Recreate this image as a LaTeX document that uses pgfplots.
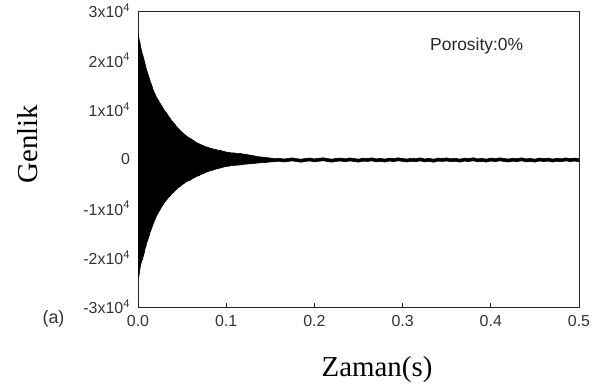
\documentclass[border=0pt]{standalone}
\usepackage{fontspec}
\setmainfont{Liberation Sans}
\newfontfamily\labelserif{Liberation Serif}
\usepackage{pgfplots}
\pgfplotsset{compat=1.18}
\usepgfplotslibrary{fillbetween}
\usepackage{pgfplotstable}

% Envelope of the recorded signal: time (s), upper and lower amplitude
\pgfplotstableread{
t      up     lo
0.0000 25600 -23800
0.0006 25100 -24100
0.0012 24300 -23600
0.0023 23500 -22100
0.0032 22600 -21400
0.0040 22000 -20700
0.0050 21300 -20400
0.0060 20700 -19700
0.0070 20000 -19100
0.0080 19300 -18200
0.0090 18600 -17700
0.0098 18000 -17000
0.0108 17500 -16600
0.0118 16900 -16000
0.0128 16400 -15500
0.0136 15900 -14900
0.0148 15300 -14400
0.0160 14700 -13800
0.0172 14000 -13200
0.0185 13500 -12600
0.0198 13000 -12100
0.0210 12500 -11500
0.0230 11900 -10900
0.0250 11300 -10300
0.0268 10800 -9700
0.0287 10200 -9200
0.0305 9700 -8700
0.0325 9300 -8300
0.0345 8700 -7800
0.0363 8300 -7500
0.0380 7800 -7100
0.0400 7400 -6800
0.0420 7000 -6400
0.0440 6500 -6100
0.0458 6200 -5800
0.0476 5800 -5600
0.0500 5400 -5200
0.0520 5100 -5000
0.0540 4800 -4700
0.0560 4500 -4500
0.0590 4200 -4300
0.0615 3900 -4000
0.0640 3600 -3800
0.0665 3300 -3500
0.0690 3100 -3400
0.0715 2900 -3100
0.0740 2700 -3000
0.0765 2500 -2700
0.0790 2400 -2600
0.0815 2200 -2400
0.0840 2100 -2300
0.0865 1950 -2150
0.0890 1900 -2000
0.0910 1750 -1900
0.0930 1800 -1850
0.0955 1600 -1700
0.0980 1500 -1600
0.1005 1400 -1500
0.1030 1350 -1450
0.1055 1250 -1350
0.1080 1250 -1300
0.1120 1150 -1250
0.1160 1150 -1200
0.1190 1000 -1100
0.1220 950 -1050
0.1250 850 -1000
0.1280 750 -950
0.1310 650 -900
0.1340 550 -850
0.1370 450 -800
0.1400 400 -750
0.1450 300 -700
0.1500 200 -600
0.155 50 -550
0.160 150 -450
0.165 0 -600
0.170 100 -500
0.175 220 -380
0.180 70 -530
0.185 -50 -650
0.190 120 -480
0.195 200 -400
0.200 20 -580
0.205 140 -460
0.210 250 -350
0.215 80 -520
0.220 -30 -630
0.225 130 -470
0.230 180 -420
0.235 40 -560
0.240 210 -390
0.245 90 -510
0.250 -40 -640
0.255 160 -440
0.260 100 -500
0.265 230 -370
0.270 30 -570
0.275 120 -480
0.280 -20 -620
0.285 190 -410
0.290 70 -530
0.295 240 -360
0.300 110 -490
0.305 -10 -610
0.310 150 -450
0.315 60 -540
0.320 220 -380
0.325 10 -590
0.330 130 -470
0.335 -50 -650
0.340 170 -430
0.345 100 -500
0.350 210 -390
0.355 40 -560
0.360 140 -460
0.365 -30 -630
0.370 180 -420
0.375 80 -520
0.380 250 -350
0.385 30 -570
0.390 110 -490
0.395 -20 -620
0.400 190 -410
0.405 60 -540
0.410 230 -370
0.415 100 -500
0.420 0 -600
0.425 160 -440
0.430 70 -530
0.435 240 -360
0.440 20 -580
0.445 120 -480
0.450 -40 -640
0.455 200 -400
0.460 90 -510
0.465 170 -430
0.470 -10 -610
0.475 140 -460
0.480 40 -560
0.485 220 -380
0.490 80 -520
0.495 180 -420
0.500 50 -550
}\signal

\begin{document}
\begin{tikzpicture}
\begin{axis}[
  at={(0,0)}, anchor=south west,
  scale only axis,
  width=441bp, height=296bp,
  xmin=0, xmax=0.5, ymin=-30000, ymax=30000,
  axis line style={black!85, line width=0.9bp},
  xtick={0,0.1,0.2,0.3,0.4,0.5},
  xticklabels={0.0,0.1,0.2,0.3,0.4,0.5},
  ytick={-30000,-20000,-10000,0,10000,20000,30000},
  yticklabels={-3x10\textsuperscript{4},-2x10\textsuperscript{4},-1x10\textsuperscript{4},0,1x10\textsuperscript{4},2x10\textsuperscript{4},3x10\textsuperscript{4}},
  xtick pos=bottom, ytick pos=left,
  tick align=inside,
  major tick length=4bp,
  xtick style={black!85, line width=0.9bp},
  ytick style={draw=none},
  scaled ticks=false,
  ticklabel style={font=\fontsize{16}{18}\selectfont, text=black!80},
  xticklabel shift=5bp,
  yticklabel shift=4.5bp,
  xlabel={Zaman(s)},
  ylabel={Genlik},
  xlabel style={at={(axis description cs:0.542,0)}, anchor=base, yshift=-69bp,
                font=\labelserif\fontsize{29}{32}\selectfont},
  ylabel style={at={(axis description cs:-0.229,0.551)}, anchor=base, rotate=0,
                font=\labelserif\fontsize{29}{32}\selectfont},
  clip=true,
]
  \addplot[name path=upper, black, line width=0.6bp] table[x=t, y=up] {\signal};
  \addplot[name path=lower, black, line width=0.6bp] table[x=t, y=lo] {\signal};
  \addplot[black] fill between[of=upper and lower];
  \node[font=\fontsize{17.5}{20}\selectfont, text=black!85] at (axis cs:0.384,22900) {Porosity:0\%};
\end{axis}
\node[font=\fontsize{18}{20}\selectfont, text=black!80] at (-84.5bp,-12bp) {(a)};
\pgfresetboundingbox
\useasboundingbox (-138bp,-84bp) rectangle (462bp,307bp);
\end{tikzpicture}
\end{document}
